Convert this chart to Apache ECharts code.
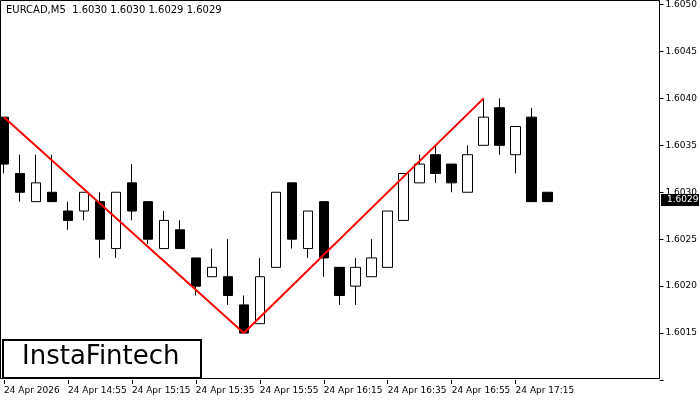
<!DOCTYPE html>
<html><head><meta charset="utf-8">
<script src="https://cdn.jsdelivr.net/npm/echarts@6/dist/echarts.min.js"></script>
<style>html,body{margin:0;padding:0;background:#fff}#c{width:700px;height:400px}</style>
</head><body><div id="c"></div>
<script>
const times = [];
for (let i = 0; i < 42; i++) { const m = 14*60+35+5*i; times.push(Math.floor(m/60)+':'+String(m%60).padStart(2,'0')); }
const labelIdx = [0,4,8,12,16,20,24,28,32];
// [open, close, low, high]
const ohlc = [
[1.6038,1.6033,1.6032,1.6038],[1.6032,1.6030,1.6029,1.6034],[1.6029,1.6031,1.6029,1.6034],[1.6030,1.6029,1.6029,1.6034],
[1.6028,1.6027,1.6026,1.6029],[1.6028,1.6030,1.6027,1.6030],[1.6029,1.6025,1.6023,1.6030],[1.6024,1.6030,1.6023,1.6030],
[1.6031,1.6028,1.6027,1.6033],[1.6029,1.6025,1.60245,1.6029],[1.6024,1.6027,1.6024,1.6028],[1.6026,1.6024,1.6024,1.6027],
[1.6023,1.6020,1.6019,1.6023],[1.6021,1.6022,1.6021,1.6024],[1.6021,1.6019,1.6018,1.6025],[1.6018,1.6015,1.6015,1.6019],
[1.6016,1.6021,1.6016,1.6023],[1.6022,1.6030,1.6022,1.6030],[1.6031,1.6025,1.6024,1.6031],[1.6024,1.6028,1.6023,1.6028],
[1.6029,1.6023,1.6021,1.6029],[1.6022,1.6019,1.6018,1.6022],[1.6020,1.6022,1.6018,1.6023],[1.6021,1.6023,1.6021,1.6025],
[1.6022,1.6028,1.6022,1.6028],[1.6027,1.6032,1.6027,1.6032],[1.6031,1.6033,1.6031,1.6034],[1.6034,1.6032,1.6031,1.6035],
[1.6033,1.6031,1.6030,1.6033],[1.6030,1.6034,1.6030,1.6035],[1.6035,1.6038,1.6035,1.6040],[1.6039,1.6035,1.6034,1.6040],
[1.6034,1.6037,1.6032,1.6037],[1.6038,1.6029,1.6029,1.6039],[1.6030,1.6029,1.6029,1.6030]
];
const pattern = [[0,1.6038],[15,1.6015],[30,1.6040]];
const lastPrice = 1.6029;
const chart = echarts.init(document.getElementById('c'));
chart.setOption({
  animation:false,
  grid:{left:4,right:40,top:4,bottom:20},
  graphic:[
    {type:'rect',shape:{x:0.5,y:0.5,width:659,height:378},style:{fill:null,stroke:'#000',lineWidth:1},z:0},
    {type:'text',left:6,top:5,style:{text:'EURCAD,M5  1.6030 1.6030 1.6029 1.6029',font:'10px "DejaVu Sans"',fill:'#000'},z:10},
    {type:'rect',shape:{x:3,y:340,width:198,height:38},style:{fill:'#fff',stroke:'#000',lineWidth:2},z:20},
    {type:'text',left:22,top:344,style:{text:'InstaFintech',font:'26px "DejaVu Sans"',fill:'#000'},z:21},
    {type:'rect',shape:{x:661,y:194,width:38,height:12},style:{fill:'#000'},z:20},
    {type:'text',left:667,top:195,style:{text:'1.6029',font:'9px "DejaVu Sans"',fill:'#fff'},z:21}
  ],
  xAxis:{type:'category',data:times,boundaryGap:false,
    axisLine:{show:false},
    axisTick:{show:true,length:4,inside:false,lineStyle:{color:'#000'},interval:(i)=>labelIdx.includes(i)},
    axisLabel:{interval:(i)=>labelIdx.includes(i),align:'left',fontSize:9,color:'#000',fontFamily:'DejaVu Sans',margin:6,
      formatter:(v,i)=> i===0?'24 Apr 2026':'24 Apr '+v},
    splitLine:{show:false}},
  yAxis:{type:'value',position:'right',min:1.6010,max:1.6050,interval:0.0005,scale:true,
    axisLine:{show:false},axisTick:{show:true,length:4,lineStyle:{color:'#000'}},
    axisLabel:{fontSize:9,color:'#000',fontFamily:'DejaVu Sans',margin:6,formatter:(v)=> v<1.60125?'':v.toFixed(4)},
    splitLine:{show:false}},
  series:[
    {type:'candlestick',data:ohlc,barWidth:10,
      itemStyle:{color:'#fff',color0:'#000',borderColor:'#000',borderColor0:'#000',borderWidth:1},
      markLine:{silent:true,symbol:'none',label:{show:false},lineStyle:{color:'#000',width:1,type:'solid'},data:[{yAxis:lastPrice}]}},
    {type:'line',data:pattern,symbol:'none',lineStyle:{color:'#ff0000',width:2},z:5}
  ]
});
</script></body></html>
